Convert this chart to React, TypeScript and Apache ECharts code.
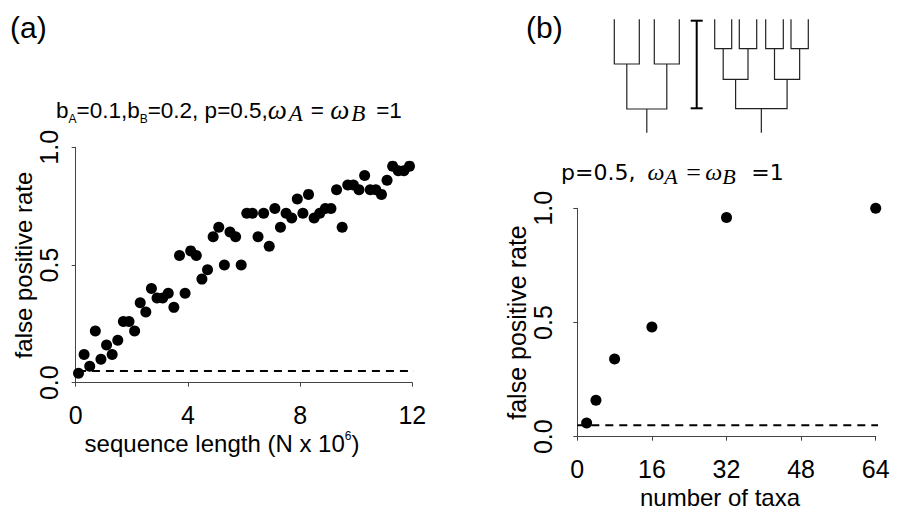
import React, { useEffect, useRef } from "react";
import * as echarts from "echarts";

// ---------- data ----------
const seqLength = [
  0.1, 0.3, 0.5, 0.7, 0.9, 1.1, 1.3, 1.5, 1.7, 1.9,
  2.1, 2.3, 2.5, 2.7, 2.9, 3.1, 3.3, 3.5, 3.7, 3.9,
  4.1, 4.3, 4.5, 4.7, 4.9, 5.1, 5.3, 5.5, 5.7, 5.9,
  6.1, 6.3, 6.5, 6.7, 6.9, 7.1, 7.3, 7.5, 7.7, 7.9,
  8.1, 8.3, 8.5, 8.7, 8.9, 9.1, 9.3, 9.5, 9.7, 9.9,
  10.1, 10.3, 10.5, 10.7, 10.9, 11.1, 11.3, 11.5, 11.7, 11.9,
];
const fprSeq = [
  0.04, 0.12, 0.07, 0.22, 0.10, 0.16, 0.12, 0.18, 0.26, 0.26,
  0.22, 0.34, 0.30, 0.40, 0.36, 0.36, 0.38, 0.32, 0.54, 0.38,
  0.56, 0.54, 0.44, 0.48, 0.62, 0.66, 0.50, 0.64, 0.62, 0.50,
  0.72, 0.72, 0.62, 0.72, 0.58, 0.74, 0.66, 0.72, 0.70, 0.78,
  0.72, 0.80, 0.70, 0.72, 0.74, 0.74, 0.82, 0.66, 0.84, 0.84,
  0.82, 0.88, 0.82, 0.82, 0.80, 0.86, 0.92, 0.90, 0.90, 0.92,
];
const numTaxa = [2, 4, 8, 16, 32, 64];
const fprTaxa = [0.06, 0.16, 0.34, 0.48, 0.96, 1.0];
const nominalLevel = 0.05;
const xTicksA = [0, 4, 8, 12];
const xTicksB = [0, 16, 32, 48, 64];
const yTicks = [0, 0.5, 1];

// ---------- layout ----------
const SANS = "Liberation Sans";
const SERIF = "Liberation Serif";

function cladogram(tips: number[], top: number, levels: number[], bottom: number) {
  const els: any[] = [];
  let nodes = tips.map((x) => ({ x, y: top }));
  const st = { stroke: "#222", lineWidth: 1.2, fill: "none" };
  for (const ly of levels) {
    const next: { x: number; y: number }[] = [];
    for (let i = 0; i < nodes.length; i += 2) {
      const a = nodes[i];
      const b = nodes[i + 1];
      els.push({
        type: "polyline",
        shape: { points: [[a.x, a.y], [a.x, ly], [b.x, ly], [b.x, b.y]] },
        style: st,
      });
      next.push({ x: (a.x + b.x) / 2, y: ly });
    }
    nodes = next;
  }
  els.push({
    type: "line",
    shape: { x1: nodes[0].x, y1: nodes[0].y, x2: nodes[0].x, y2: bottom },
    style: st,
  });
  return els;
}

export default function App() {
  const ref = useRef<HTMLDivElement>(null);
  useEffect(() => {
    document.body.style.margin = "0";
    const chart = echarts.init(ref.current!, null, { renderer: "svg" });

    const axisLineStyle = { color: "#444", width: 1 };
    const xAxisBase = (min: number, max: number, interval: number, offset: number, gridIndex: number, name: string, namePad: number[]) => ({
      type: "value",
      gridIndex,
      min,
      max,
      interval,
      offset,
      position: "bottom",
      axisLine: { show: true, lineStyle: axisLineStyle },
      axisTick: { show: true, length: 4, lineStyle: axisLineStyle },
      splitLine: { show: false },
      axisLabel: { fontFamily: SANS, fontSize: 25, color: "#000", margin: 7 },
      name,
      nameLocation: "middle",
      nameGap: 34,
      nameTextStyle: {
        fontFamily: SANS,
        fontSize: 24,
        color: "#000",
        lineHeight: 28,
        padding: namePad,
        rich: {
          sup: { fontFamily: SANS, fontSize: 12, lineHeight: 12, verticalAlign: "top", color: "#000" },
        },
      },
    });
    const yAxisBase = (offset: number, gridIndex: number, margin: number, nameGap: number, nameSize: number) => ({
      type: "value",
      gridIndex,
      min: 0,
      max: 1,
      interval: 0.5,
      offset,
      position: "left",
      axisLine: { show: true, lineStyle: axisLineStyle },
      axisTick: { show: true, length: 4, lineStyle: axisLineStyle },
      splitLine: { show: false },
      axisLabel: {
        fontFamily: SANS,
        fontSize: 25,
        color: "#000",
        rotate: 90,
        margin,
        formatter: (v: number) => (yTicks.includes(v) ? v.toFixed(1) : ""),
      },
      name: "false positive rate",
      nameLocation: "middle",
      nameRotate: 90,
      nameGap,
      nameTextStyle: { fontFamily: SANS, fontSize: nameSize, color: "#000" },
    });

    const titleA = {
      type: "text",
      x: 56,
      y: 110,
      style: {
        text: "b{s|A}=0.1,b{s|B}=0.2, p=0.5,{om|ω}{os|A}{eq|= }{om|ω}{ob|B}=1",
        fontFamily: SANS,
        fontSize: 22.5,
        fill: "#000",
        verticalAlign: "middle",
        rich: {
          s: { fontFamily: SANS, fontSize: 12, lineHeight: 16, verticalAlign: "bottom", fill: "#000" },
          om: { fontFamily: SERIF, fontStyle: "italic", fontSize: 27, lineHeight: 30, width: 21, verticalAlign: "middle", fill: "#000" },
          os: { fontFamily: SERIF, fontStyle: "italic", fontSize: 23, lineHeight: 22, width: 22, verticalAlign: "bottom", fill: "#000" },
          ob: { fontFamily: SERIF, fontStyle: "italic", fontSize: 23, lineHeight: 22, width: 25, verticalAlign: "bottom", fill: "#000" },
          eq: { fontFamily: SANS, fontSize: 22.5, lineHeight: 30, verticalAlign: "middle", fill: "#000" },
        },
      },
    };
    const titleB = {
      type: "text",
      x: 561,
      y: 172,
      style: {
        text: "p=0.5,{sp| }{om|ω}{os|A}{eq|=}{om|ω}{ob|B}=1",
        fontFamily: "DejaVu Sans",
        fontSize: 22,
        fill: "#000",
        verticalAlign: "middle",
        rich: {
          sp: { fontFamily: "DejaVu Sans", fontSize: 22, width: 12, lineHeight: 30, verticalAlign: "middle" },
          om: { fontFamily: SERIF, fontStyle: "italic", fontSize: 24, lineHeight: 30, verticalAlign: "middle", fill: "#000" },
          os: { fontFamily: SERIF, fontStyle: "italic", fontSize: 22, lineHeight: 22, width: 22, verticalAlign: "bottom", fill: "#000" },
          ob: { fontFamily: SERIF, fontStyle: "italic", fontSize: 22, lineHeight: 22, width: 29, verticalAlign: "bottom", fill: "#000" },
          eq: { fontFamily: SERIF, fontSize: 26, lineHeight: 30, width: 19, verticalAlign: "middle", fill: "#000" },
        },
      },
    };

    const treeSmall = cladogram([614.3, 639.3, 654.3, 679.3], 19.3, [64, 109], 132.7);
    const treeLarge = cladogram([714.7, 731.7, 739.3, 756.7, 765.7, 783.3, 791, 808.3], 19.3, [48.7, 79.3, 108.7], 132.7);
    const barStyle = { stroke: "#000", lineWidth: 2 };
    const scaleBar = [
      { type: "line", shape: { x1: 696.7, y1: 20.7, x2: 696.7, y2: 108.3 }, style: barStyle },
      { type: "line", shape: { x1: 690.7, y1: 20.7, x2: 702.7, y2: 20.7 }, style: barStyle },
      { type: "line", shape: { x1: 690.7, y1: 108.3, x2: 702.7, y2: 108.3 }, style: barStyle },
    ];

    const dashStyle = { color: "#000", width: 2, type: [8, 6], opacity: 1 };
    const dotStyle = { color: "#000", opacity: 1 };

    chart.setOption({
      animation: false,
      backgroundColor: "#fff",
      grid: [
        { left: 75.7, top: 147.3, width: 336.6, height: 235.4, containLabel: false },
        { left: 577.3, top: 208.3, width: 298.4, height: 232.7, containLabel: false },
      ],
      xAxis: [
        xAxisBase(xTicksA[0], xTicksA[xTicksA.length - 1], 4, 13, 0, "sequence length (N x 10{sup|6})", [0, 44, 0, 0]),
        xAxisBase(xTicksB[0], xTicksB[xTicksB.length - 1], 16, 12.3, 1, "number of taxa", [0, 13, 0, 0]),
      ],
      yAxis: [yAxisBase(11.2, 0, 3, 26, 24), yAxisBase(13, 1, 9, 30, 25)],
      series: [
        {
          type: "scatter",
          xAxisIndex: 0,
          yAxisIndex: 0,
          data: seqLength.map((x, i) => [x, fprSeq[i]]),
          symbolSize: 11,
          itemStyle: dotStyle,
          clip: false,
          silent: true,
        },
        {
          type: "line",
          xAxisIndex: 0,
          yAxisIndex: 0,
          data: [[-0.42, nominalLevel], [12.4, nominalLevel]],
          showSymbol: false,
          clip: false,
          lineStyle: dashStyle,
          silent: true,
        },
        {
          type: "scatter",
          xAxisIndex: 1,
          yAxisIndex: 1,
          data: numTaxa.map((x, i) => [x, fprTaxa[i]]),
          symbolSize: 11,
          itemStyle: dotStyle,
          clip: false,
          silent: true,
        },
        {
          type: "line",
          xAxisIndex: 1,
          yAxisIndex: 1,
          data: [[-3, nominalLevel], [72, nominalLevel]],
          showSymbol: false,
          clip: false,
          lineStyle: dashStyle,
          silent: true,
        },
      ],
      graphic: [
        { type: "text", x: 10, y: 27, style: { text: "(a)", fontFamily: SANS, fontSize: 30, fill: "#000", verticalAlign: "middle" } },
        { type: "text", x: 526, y: 27, style: { text: "(b)", fontFamily: SANS, fontSize: 30, fill: "#000", verticalAlign: "middle" } },
        titleA,
        titleB,
        ...treeSmall,
        ...treeLarge,
        ...scaleBar,
      ],
    });
    return () => chart.dispose();
  }, []);
  return <div ref={ref} style={{ width: 914, height: 512 }} />;
}
